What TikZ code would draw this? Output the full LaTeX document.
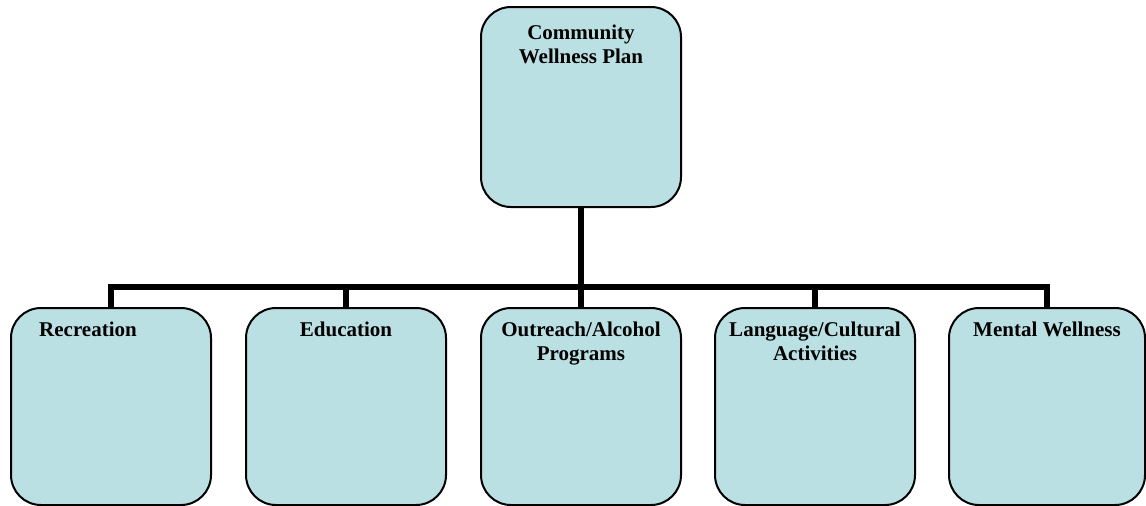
\documentclass[tikz,border=0pt]{standalone}
\usepackage{fontspec}
\setmainfont{Liberation Serif}
\usepackage{xcolor}
\usepackage{tikz}
\usetikzlibrary{math,positioning}
\definecolor{boxfill}{HTML}{BBE0E3}

\begin{document}
\begin{tikzpicture}[x=1pt,y=-1pt,
	planbox/.style={draw=black,line width=2pt,fill=boxfill,rounded corners=30pt,
		minimum width=200pt,minimum height=197pt,inner sep=0pt},
	lbl/.style={font=\bfseries\fontsize{21}{24}\selectfont,align=center,inner sep=0pt,anchor=north},
	conn/.style={line width=6pt,line join=miter}]
\useasboundingbox (0,0) rectangle (1146,506);
\tikzmath{
	\bary = 287;\boty = 406.5;
	{\node[planbox,minimum height=200pt] (plan) at (581,107) {};};
	{\node[planbox] (rec) at (111,\boty) {};};
	{\node[planbox] (edu) at (346,\boty) {};};
	{\node[planbox] (out) at (581,\boty) {};};
	{\node[planbox] (lang) at (815,\boty) {};};
	{\node[planbox,minimum width=196pt] (ment) at (1047,\boty) {};};
	{\coordinate (bar) at (0,\bary);};
	%
	{\node[lbl,below=19pt of plan.north] (planl) {Community\\Wellness Plan};};
	{\node[lbl,below=15pt of rec.north,xshift=-23pt] (recl) {Recreation};};
	{\node[lbl,below=15pt of edu.north] (edul) {Education};};
	{\node[lbl,below=15pt of out.north] (outl) {Outreach/Alcohol\\Programs};};
	{\node[lbl,below=15pt of lang.north] (langl) {Language/Cultural\\Activities};};
	{\node[lbl,below=15pt of ment.north] (mentl) {Mental Wellness};};
	%
	{\draw[conn] (plan.south) -- (plan.south |- bar);};
	{\draw[conn] (rec.north) -- (rec.north |- bar) -- (ment.north |- bar) -- (ment.north);};
	{\draw[conn] (edu.north) -- (edu.north |- bar);};
	{\draw[conn] (out.north) -- (out.north |- bar);};
	{\draw[conn] (lang.north) -- (lang.north |- bar);};
};
\end{tikzpicture}
\end{document}
